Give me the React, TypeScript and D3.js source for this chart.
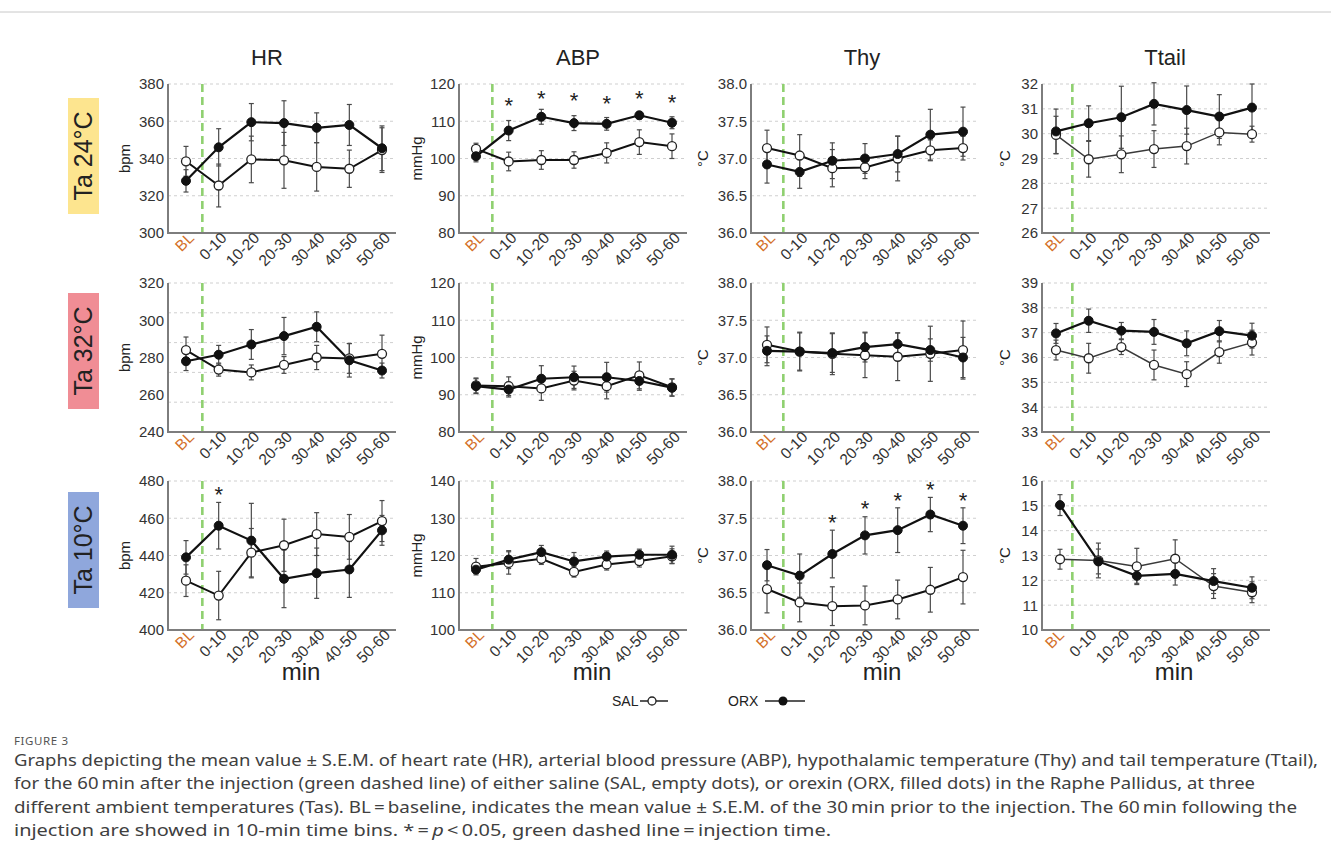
import React from 'react';
import * as d3 from 'd3';

// ---------- categories / labels ----------
const categories = ['BL', '0-10', '10-20', '20-30', '30-40', '40-50', '50-60'];
const variables = ['HR', 'ABP', 'Thy', 'Ttail'];
const units = ['bpm', 'mmHg', '°C', '°C'];
const conditions = ['Ta 24°C', 'Ta 32°C', 'Ta 10°C'];
const conditionColors = ['#fde58f', '#f08d95', '#8fa7dc'];

// ---------- Ta 24°C ----------
const hr24Sal = [338.5, 325.5, 339.5, 339, 335.5, 334.5, 344.5];
const hr24SalErr = [8, 11.5, 12.5, 15, 13, 10, 12];
const hr24Orx = [328, 346, 359.5, 359, 356.5, 358, 345.5];
const hr24OrxErr = [6, 10, 10, 12, 8, 11, 12];

const abp24Sal = [102.6, 99.2, 99.6, 99.6, 101.5, 104.4, 103.3];
const abp24SalErr = [1.5, 2.5, 2.5, 2.2, 2.7, 3.3, 3.3];
const abp24Orx = [100.6, 107.5, 111.2, 109.5, 109.3, 111.6, 109.6];
const abp24OrxErr = [1.5, 2.7, 2, 2, 1.7, 1, 1.6];
const abp24Stars = [null, 115.5, 117.3, 116.8, 115.9, 117.4, 116.3];

const thy24Sal = [37.14, 37.04, 36.87, 36.88, 37.0, 37.11, 37.14];
const thy24SalErr = [0.24, 0.28, 0.25, 0.15, 0.3, 0.14, 0.16];
const thy24Orx = [36.92, 36.82, 36.97, 37.0, 37.06, 37.32, 37.36];
const thy24OrxErr = [0.25, 0.22, 0.24, 0.2, 0.24, 0.34, 0.33];

const ttail24Sal = [29.95, 28.97, 29.17, 29.38, 29.5, 30.05, 29.98];
const ttail24SalErr = [0.75, 0.72, 0.74, 0.74, 0.72, 0.5, 0.32];
const ttail24Orx = [30.09, 30.42, 30.66, 31.2, 30.95, 30.69, 31.05];
const ttail24OrxErr = [0.9, 0.7, 1.25, 0.85, 0.97, 0.88, 0.95];

// ---------- Ta 32°C ----------
const hr32Sal = [284, 273.5, 272, 276, 280, 279.5, 282];
const hr32SalErr = [7, 3.5, 4, 4.5, 6.5, 8, 10];
const hr32Orx = [278, 281.5, 287, 291.5, 296.5, 278.5, 273];
const hr32OrxErr = [5, 5, 8, 10, 8, 9, 4];
const hr32Grid = [320, 304, 288, 272, 256];

const abp32Sal = [92.5, 92.3, 91.7, 93.8, 92.3, 95.2, 92];
const abp32SalErr = [2, 2.5, 3.2, 2.5, 3.4, 3.6, 2.3];
const abp32Orx = [92.3, 91.4, 94.3, 94.7, 94.7, 93.7, 91.9];
const abp32OrxErr = [2, 2, 3.5, 3, 4, 2.5, 2.3];

const thy32Sal = [37.17, 37.08, 37.05, 37.03, 37.01, 37.05, 37.1];
const thy32SalErr = [0.24, 0.26, 0.28, 0.3, 0.32, 0.37, 0.39];
const thy32Orx = [37.09, 37.08, 37.06, 37.14, 37.18, 37.1, 37.0];
const thy32OrxErr = [0.2, 0.25, 0.26, 0.2, 0.15, 0.15, 0.27];

const ttail32Sal = [36.3, 35.97, 36.42, 35.7, 35.33, 36.22, 36.6];
const ttail32SalErr = [0.4, 0.6, 0.3, 0.6, 0.5, 0.45, 0.5];
const ttail32Orx = [36.97, 37.48, 37.08, 37.03, 36.57, 37.06, 36.88];
const ttail32OrxErr = [0.4, 0.47, 0.33, 0.5, 0.5, 0.43, 0.5];

// ---------- Ta 10°C ----------
const hr10Sal = [426.5, 418.5, 441.5, 445.5, 451.5, 450, 458.5];
const hr10SalErr = [8.5, 13, 13, 14, 11.5, 12, 11];
const hr10Orx = [439, 456, 448, 427.5, 430.5, 432.5, 453.5];
const hr10OrxErr = [9, 12.5, 20, 15.5, 13.5, 15, 8];
const hr10Stars = [null, 475.2, null, null, null, null, null];

const abp10Sal = [117.0, 118.0, 119.1, 115.6, 117.6, 118.5, 119.8];
const abp10SalErr = [2.2, 3, 1.5, 1.4, 1.5, 1.6, 2];
const abp10Orx = [116.2, 118.9, 120.9, 118.4, 119.7, 120.2, 120.2];
const abp10OrxErr = [1, 2.4, 1.8, 2.4, 1.5, 1.5, 2.3];

const thy10Sal = [36.55, 36.37, 36.32, 36.33, 36.41, 36.54, 36.71];
const thy10SalErr = [0.32, 0.26, 0.26, 0.26, 0.26, 0.3, 0.36];
const thy10Orx = [36.87, 36.73, 37.02, 37.27, 37.34, 37.55, 37.4];
const thy10OrxErr = [0.21, 0.29, 0.32, 0.25, 0.3, 0.23, 0.24];
const thy10Stars = [null, null, 37.51, 37.69, 37.8, 37.95, 37.8];

// this panel has only six plotted time points spread over the axis
const ttail10Sal = [12.85, 12.8, 12.56, 12.87, 11.77, 11.52];
const ttail10SalErr = [0.4, 0.7, 0.73, 0.76, 0.5, 0.42];
const ttail10Orx = [15.03, 12.76, 12.18, 12.26, 11.97, 11.7];
const ttail10OrxErr = [0.42, 0.5, 0.3, 0.45, 0.5, 0.44];

// ---------- axis domains / ticks ----------
const hrDomains = [[300, 380], [240, 320], [400, 480]];
const abpDomains = [[80, 120], [80, 120], [100, 140]];
const thyDomains = [[36, 38], [36, 38], [36, 38]];
const ttailDomains = [[26, 32], [33, 39], [10, 16]];
const tickSteps = [20, 10, 0.5, 1];

const captionLines = [
  'Graphs depicting the mean value \u00B1 S.E.M. of heart rate (HR), arterial blood pressure (ABP), hypothalamic temperature (Thy) and tail temperature (Ttail),',
  'for the 60\u2009min after the injection (green dashed line) of either saline (SAL, empty dots), or orexin (ORX, filled dots) in the Raphe Pallidus, at three',
  'different ambient temperatures (Tas). BL\u2009=\u2009baseline, indicates the mean value \u00B1 S.E.M. of the 30\u2009min prior to the injection. The 60\u2009min following the',
];
const captionWidths = [1304, 1241, 1283, 817];

// ---------- layout ----------
const W = 1331;
const H = 867;
const colLeft = [168, 459, 751, 1042];
const colStart = [18, 17, 16, 14];
const plotW = 228;
const ptSpan = 196;
const rowTop = [84, 283, 481];
const plotH = 149;
const titleX = [267, 578, 862, 1165];
const unitX = [125, 417, 703, 1005];
const minX = [301, 592, 882, 1174];
const boxY = [98, 293, 492];
const FONT = '"Liberation Sans", Arial, Helvetica, sans-serif';
const CAPFONT = '"Noto Sans", "Open Sans", sans-serif';

type Spec = {
  sal: number[]; salErr: number[]; orx: number[]; orxErr: number[];
  domain: number[]; step: number; grid?: number[]; stars?: (number | null)[];
};

const panels: Spec[][] = [
  [
    { sal: hr24Sal, salErr: hr24SalErr, orx: hr24Orx, orxErr: hr24OrxErr, domain: hrDomains[0], step: tickSteps[0] },
    { sal: abp24Sal, salErr: abp24SalErr, orx: abp24Orx, orxErr: abp24OrxErr, domain: abpDomains[0], step: tickSteps[1], stars: abp24Stars },
    { sal: thy24Sal, salErr: thy24SalErr, orx: thy24Orx, orxErr: thy24OrxErr, domain: thyDomains[0], step: tickSteps[2] },
    { sal: ttail24Sal, salErr: ttail24SalErr, orx: ttail24Orx, orxErr: ttail24OrxErr, domain: ttailDomains[0], step: tickSteps[3] },
  ],
  [
    { sal: hr32Sal, salErr: hr32SalErr, orx: hr32Orx, orxErr: hr32OrxErr, domain: hrDomains[1], step: tickSteps[0], grid: hr32Grid },
    { sal: abp32Sal, salErr: abp32SalErr, orx: abp32Orx, orxErr: abp32OrxErr, domain: abpDomains[1], step: tickSteps[1] },
    { sal: thy32Sal, salErr: thy32SalErr, orx: thy32Orx, orxErr: thy32OrxErr, domain: thyDomains[1], step: tickSteps[2] },
    { sal: ttail32Sal, salErr: ttail32SalErr, orx: ttail32Orx, orxErr: ttail32OrxErr, domain: ttailDomains[1], step: tickSteps[3] },
  ],
  [
    { sal: hr10Sal, salErr: hr10SalErr, orx: hr10Orx, orxErr: hr10OrxErr, domain: hrDomains[2], step: tickSteps[0], stars: hr10Stars },
    { sal: abp10Sal, salErr: abp10SalErr, orx: abp10Orx, orxErr: abp10OrxErr, domain: abpDomains[2], step: tickSteps[1] },
    { sal: thy10Sal, salErr: thy10SalErr, orx: thy10Orx, orxErr: thy10OrxErr, domain: thyDomains[2], step: tickSteps[2], stars: thy10Stars },
    { sal: ttail10Sal, salErr: ttail10SalErr, orx: ttail10Orx, orxErr: ttail10OrxErr, domain: ttailDomains[2], step: tickSteps[3] },
  ],
];

function Panel({ spec, row, col }: { spec: Spec; row: number; col: number }) {
  const x0 = colLeft[col];
  const y0 = rowTop[row];
  const xCat = d3.scalePoint<string>().domain(categories).range([x0 + colStart[col], x0 + colStart[col] + ptSpan]);
  const y = d3.scaleLinear().domain(spec.domain).range([y0 + plotH, y0]);
  const ticks = d3.range(spec.domain[0], spec.domain[1] + spec.step / 2, spec.step);
  const grid = spec.grid ?? ticks.slice(1);
  const fmt = spec.step < 1 ? d3.format('.1f') : d3.format('d');
  const n = spec.sal.length;
  const xIdx = n === categories.length
    ? (i: number) => xCat(categories[i]) as number
    : (i: number) => d3.scaleLinear().domain([0, n - 1]).range([(xCat('BL') as number) + 4, xCat(categories[categories.length - 1]) as number])(i);
  const greenX = ((xCat('BL') as number) + (xCat('0-10') as number)) / 2;
  const line = d3.line<number>().x((_, i) => xIdx(i)).y((d) => y(d));
  const salStroke = col === 3 ? '#3a3a3a' : '#111';
  const salW = col === 3 ? 1.5 : 2;
  const bars = (vals: number[], errs: number[], key: string) =>
    vals.map((v, i) => {
      const cx = xIdx(i);
      const yt = y(v + errs[i]);
      const yb = y(v - errs[i]);
      return (
        <g key={key + i} stroke="#4a4a4a" strokeWidth={1.2}>
          <line x1={cx} x2={cx} y1={yt} y2={yb} />
          <line x1={cx - 2.5} x2={cx + 2.5} y1={yt} y2={yt} />
          <line x1={cx - 2.5} x2={cx + 2.5} y1={yb} y2={yb} />
        </g>
      );
    });
  return (
    <g>
      {grid.map((g) => (
        <line key={'g' + g} x1={x0} x2={x0 + plotW} y1={y(g)} y2={y(g)} stroke="#cfcfcf" strokeWidth={1} strokeDasharray="3,3" />
      ))}
      {ticks.map((t) => (
        <text key={'t' + t} x={x0 - 4} y={y(t)} dy="0.36em" textAnchor="end" fontSize={15} fill="#333" fontFamily={FONT}>
          {fmt(t)}
        </text>
      ))}
      <line x1={greenX} x2={greenX} y1={y0} y2={y0 + plotH} stroke="#8fd070" strokeWidth={2.6} strokeDasharray="8,5" />
      <line x1={x0} x2={x0} y1={y0} y2={y0 + plotH + 1} stroke="#7d7d7d" strokeWidth={2} />
      <line x1={x0} x2={x0 + plotW} y1={y0 + plotH} y2={y0 + plotH} stroke="#7d7d7d" strokeWidth={2} />
      {categories.map((c) => (
        <text
          key={'x' + c}
          transform={`translate(${(xCat(c) as number) + 9},${y0 + plotH + 6}) rotate(-45)`}
          textAnchor="end"
          fontSize={15.5}
          fill={c === 'BL' ? '#d4702a' : '#333'}
          fontFamily={FONT}
        >
          {c}
        </text>
      ))}
      {bars(spec.sal, spec.salErr, 's')}
      {bars(spec.orx, spec.orxErr, 'o')}
      <path d={line(spec.sal) ?? ''} fill="none" stroke={salStroke} strokeWidth={salW} />
      <path d={line(spec.orx) ?? ''} fill="none" stroke="#111" strokeWidth={2.2} />
      {spec.sal.map((v, i) => (
        <circle key={'sc' + i} cx={xIdx(i)} cy={y(v)} r={4.5} fill="#fff" stroke="#222" strokeWidth={1.3} />
      ))}
      {spec.orx.map((v, i) => (
        <circle key={'oc' + i} cx={xIdx(i)} cy={y(v)} r={4.5} fill="#111" stroke="#111" strokeWidth={1} />
      ))}
      {(spec.stars ?? []).map((s, i) =>
        s == null ? null : (
          <text key={'st' + i} x={xIdx(i)} y={y(s) + 12} textAnchor="middle" fontSize={22} fill="#222" fontFamily={FONT}>
            *
          </text>
        )
      )}
      <text
        transform={`translate(${unitX[col]},${y0 + plotH / 2}) rotate(-90)`}
        textAnchor="middle"
        dy="0.35em"
        fontSize={15}
        fill="#222"
        fontFamily={FONT}
      >
        {units[col]}
      </text>
    </g>
  );
}

export default function App() {
  return (
    <svg width={W} height={H} style={{ position: 'absolute', left: 0, top: 0, background: '#fff' }}>
      <rect x={0} y={0} width={W} height={H} fill="#fff" />
      <line x1={0} x2={W} y1={12} y2={12} stroke="#c8c8c8" strokeWidth={1} />
      {variables.map((v, c) => (
        <text key={v} x={titleX[c]} y={65} textAnchor="middle" fontSize={22} fill="#222" fontFamily={FONT}>
          {v}
        </text>
      ))}
      {conditions.map((c, r) => (
        <g key={c}>
          <rect x={68} y={boxY[r]} width={31} height={116} fill={conditionColors[r]} />
          <text
            transform={`translate(${83.5},${boxY[r] + 58}) rotate(-90)`}
            textAnchor="middle"
            dy="0.35em"
            fontSize={25}
            fill="#222"
            fontFamily={FONT}
          >
            {c}
          </text>
        </g>
      ))}
      {panels.map((rowSpecs, r) => rowSpecs.map((s, c) => <Panel key={r + '-' + c} spec={s} row={r} col={c} />))}
      {minX.map((mx, i) => (
        <text key={'min' + i} x={mx} y={680} textAnchor="middle" fontSize={24} fill="#222" fontFamily={FONT}>
          min
        </text>
      ))}
      {/* legend */}
      <g fontFamily={FONT} fontSize={14} fill="#222">
        <text x={612} y={706}>SAL</text>
        <line x1={640} x2={668} y1={701} y2={701} stroke="#222" strokeWidth={1.5} />
        <circle cx={652} cy={701} r={4} fill="#fff" stroke="#222" strokeWidth={1.3} />
        <text x={728} y={706}>ORX</text>
        <line x1={765} x2={805} y1={701} y2={701} stroke="#222" strokeWidth={1.5} />
        <circle cx={783} cy={701} r={4.5} fill="#111" />
      </g>
      {/* caption */}
      <text x={14} y={745} fontSize={11.5} letterSpacing={0.6} fill="#555" fontFamily={CAPFONT}>
        FIGURE 3
      </text>
      <g fontSize={17} fill="#404040" fontFamily={CAPFONT}>
        {captionLines.map((l, i) => (
          <text key={'cap' + i} x={14} y={766 + i * 23.3} textLength={captionWidths[i]} lengthAdjust="spacingAndGlyphs">
            {l}
          </text>
        ))}
        <text x={14} y={766 + 3 * 23.3} textLength={captionWidths[3]} lengthAdjust="spacingAndGlyphs">
          injection are showed in 10-min time bins. *{'\u2009'}={'\u2009'}<tspan fontStyle="italic">p</tspan>{'\u2009'}&lt;{'\u2009'}0.05, green dashed line{'\u2009'}={'\u2009'}injection time.
        </text>
      </g>
    </svg>
  );
}
